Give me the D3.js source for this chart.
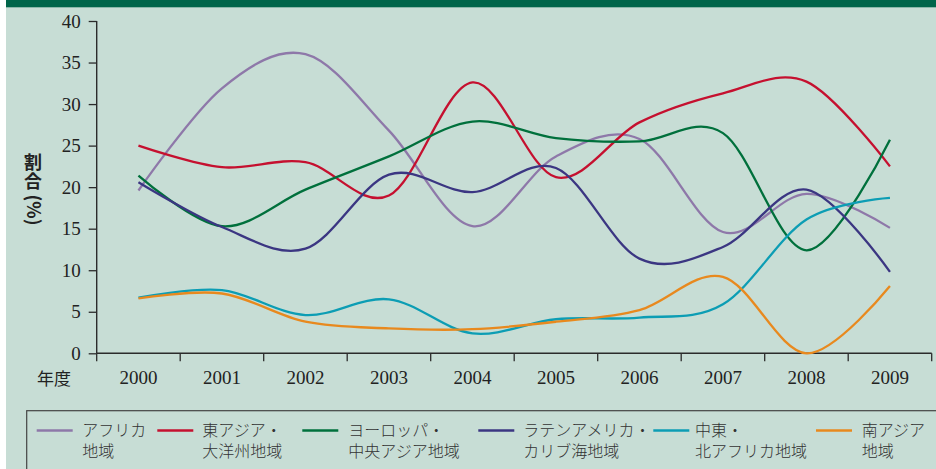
<!DOCTYPE html>
<html>
<head>
<meta charset="utf-8">
<script src="https://cdn.jsdelivr.net/npm/d3@7"></script>
<style>
  body { margin: 0; background: #fff; }
  svg { display: block; }
</style>
</head>
<body>
<div class="chart"></div>
<script>
// data (percent)
var years = ["2000","2001","2002","2003","2004","2005","2006","2007","2008","2009"];
var africa    = [19.6, 31.9, 36.0, 26.8, 15.3, 23.7, 25.8, 14.6, 19.2, 15.1];
var eastAsia  = [25.0, 22.4, 23.0, 19.0, 32.6, 21.2, 27.8, 31.3, 32.7, 22.5];
var europe    = [21.4, 15.3, 19.7, 23.7, 27.9, 25.9, 25.5, 26.5, 12.4, 25.7];
var latAm     = [20.6, 15.2, 12.6, 21.5, 19.4, 22.3, 11.4, 12.8, 19.7, 9.8];
var midEast   = [6.7, 7.6, 4.6, 6.5, 2.4, 4.1, 4.3, 5.9, 16.1, 18.7];
var southAsia = [6.6, 7.2, 3.8, 3.0, 2.9, 3.8, 5.2, 9.2, 0.0, 8.1];
var yTicks = [0, 5, 10, 15, 20, 25, 30, 35, 40];

var series = [
  {name: ["アフリカ", "地域"], values: africa, color: "#8e78a9"},
  {name: ["東アジア・", "大洋州地域"], values: eastAsia, color: "#c5102f"},
  {name: ["ヨーロッパ・", "中央アジア地域"], values: europe, color: "#00703c"},
  {name: ["ラテンアメリカ・", "カリブ海地域"], values: latAm, color: "#3b3682"},
  {name: ["中東・", "北アフリカ地域"], values: midEast, color: "#0c9db4"},
  {name: ["南アジア", "地域"], values: southAsia, color: "#e8891e"}
];

var W = 936, H = 469;
var margin = {left: 96.7, right: 931.7, top: 21, bottom: 353.3};

var svg = d3.select(".chart")
            .append("svg")
            .attr("width", W)
            .attr("height", H);

// background panel + green band
svg.append("rect").attr("x", 6).attr("y", 0).attr("width", W - 6).attr("height", H).attr("fill", "#c7ddd5");
svg.append("rect").attr("x", 6).attr("y", 0).attr("width", W - 6).attr("height", 7.3).attr("fill", "#00654a");

var x = d3.scaleBand().domain(years).range([margin.left, margin.right]).padding(0);
var y = d3.scaleLinear().domain([0, 40]).range([margin.bottom, margin.top]);

var serif = "'Liberation Serif', 'DejaVu Serif', serif";
var jp = "'Noto Sans CJK JP', sans-serif";

// y axis
var yAxis = svg.append("g")
    .attr("transform", "translate(" + margin.left + ",0)")
    .call(d3.axisLeft(y).tickValues(yTicks).tickSize(8).tickPadding(8).tickSizeOuter(0));
yAxis.select(".domain").attr("stroke", "#2b2b2b").attr("stroke-width", 1.4)
     .attr("d", "M0," + margin.top + "V" + margin.bottom);
yAxis.selectAll(".tick line").attr("stroke", "#2b2b2b").attr("stroke-width", 1.3);
yAxis.selectAll(".tick text").attr("fill", "#222").style("font-family", serif).style("font-size", "19px");

// x axis: labels at band centres, ticks at band edges
var xAxis = svg.append("g")
    .attr("transform", "translate(0," + margin.bottom + ")")
    .call(d3.axisBottom(x).tickSize(0).tickPadding(17));
xAxis.select(".domain").attr("stroke", "#2b2b2b").attr("stroke-width", 1.4)
     .attr("d", "M" + margin.left + ",0H" + margin.right);
xAxis.selectAll(".tick text").attr("fill", "#222").style("font-family", serif).style("font-size", "19px");

var edges = years.map(function(d) { return x(d); }).concat([margin.right]);
xAxis.selectAll("line.edge")
    .data(edges)
    .enter()
    .append("line")
    .attr("class", "edge")
    .attr("x1", function(d) { return d; })
    .attr("x2", function(d) { return d; })
    .attr("y1", 0)
    .attr("y2", 8)
    .attr("stroke", "#2b2b2b")
    .attr("stroke-width", 1.3);

svg.append("text")
    .attr("x", 54)
    .attr("y", 385)
    .attr("text-anchor", "middle")
    .attr("fill", "#222")
    .style("font-family", jp)
    .style("font-size", "17px")
    .text("年度");

// axis title, written top to bottom: 割 / 合 upright, (%) turned
var title = svg.append("g").attr("fill", "#222")
    .style("font-family", jp).style("font-weight", "bold").style("font-size", "18px");
title.append("text").attr("x", 33).attr("y", 169).attr("text-anchor", "middle").text("割");
title.append("text").attr("x", 33).attr("y", 188).attr("text-anchor", "middle").text("合");
title.append("text")
    .attr("transform", "translate(27,210) rotate(90)")
    .attr("text-anchor", "middle")
    .text("(%)");

// lines
var line = d3.line()
    .x(function(d, i) { return x(years[i]) + x.bandwidth() / 2; })
    .y(function(d) { return y(d); })
    .curve(d3.curveCardinal.tension(0));

svg.selectAll("path.series")
    .data(series)
    .enter()
    .append("path")
    .attr("class", "series")
    .attr("d", function(d) { return line(d.values); })
    .attr("fill", "none")
    .attr("stroke", function(d) { return d.color; })
    .attr("stroke-width", 2.3);

// legend
svg.append("rect")
    .attr("x", 26.7).attr("y", 410.7)
    .attr("width", W).attr("height", 80)
    .attr("fill", "none")
    .attr("stroke", "#444")
    .attr("stroke-width", 1.2);

var legendX = [36.7, 157.3, 302.3, 478.3, 653.3, 816];
var legendTextX = [82.3, 202.3, 348.3, 523.3, 695, 861.7];

var items = svg.selectAll("g.legend")
    .data(series)
    .enter()
    .append("g")
    .attr("class", "legend");

items.append("line")
    .attr("x1", function(d, i) { return legendX[i]; })
    .attr("x2", function(d, i) { return legendX[i] + 36; })
    .attr("y1", 430.5)
    .attr("y2", 430.5)
    .attr("stroke", function(d) { return d.color; })
    .attr("stroke-width", 2.5);

items.each(function(d, i) {
    d3.select(this).selectAll("text")
        .data(d.name)
        .enter()
        .append("text")
        .attr("x", legendTextX[i])
        .attr("y", function(t, j) { return 436 + j * 21; })
        .attr("fill", "#333")
        .style("font-family", jp)
        .style("font-size", "16px")
        .style("font-weight", 300)
        .text(function(t) { return t; });
});
</script>
</body>
</html>
